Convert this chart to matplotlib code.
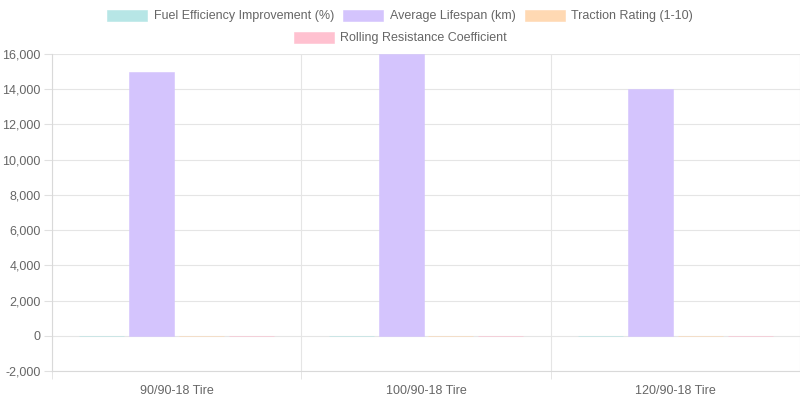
import matplotlib.pyplot as plt
import numpy as np

plt.rcParams["font.family"] = ["Liberation Sans", "DejaVu Sans"]

categories = ["90/90-18 Tire", "100/90-18 Tire", "120/90-18 Tire"]
series_names = ["Fuel Efficiency Improvement (%)", "Average Lifespan (km)",
                "Traction Rating (1-10)", "Rolling Resistance Coefficient"]
fuel_eff = [5, 7, 10]
lifespan = [15000, 16000, 14000]
traction = [8, 9, 7]
rolling = [0.012, 0.011, 0.010]

fills = ["#b7e6e6", "#d4c4fd", "#ffd9b3", "#ffc1d0"]

fig = plt.figure(figsize=(8, 4), dpi=100)
ax = fig.add_axes([0.065, 0.0725, 0.935, 0.7925])

xs = np.arange(len(categories))
slot = 0.8 / 4
W = slot * 0.9
handles = []
for i, vals in enumerate([fuel_eff, lifespan, traction, rolling]):
    b = ax.bar(xs - 0.4 + slot * (i + 0.5), vals, W, color=fills[i],
               edgecolor=fills[i], linewidth=0.4, label=series_names[i], zorder=2)
    handles.append(b)

ax.set_xlim(-0.5, len(categories) - 0.5)
ax.set_ylim(-2000, 16000)
ax.set_yticks(np.arange(-2000, 16001, 2000))
ax.set_yticklabels([f"{v:,}" for v in range(-2000, 16001, 2000)])
ax.set_xticks(xs)
ax.set_xticklabels(categories)
ax.set_xticks(np.arange(-0.5, len(categories)), minor=True)

ax.tick_params(axis="x", which="major", length=0, pad=10, labelsize=9, labelcolor="#666666")
ax.tick_params(axis="x", which="minor", length=6, color="#e0e0e0")
ax.tick_params(axis="y", length=6, color="#e0e0e0", pad=2, labelsize=9, labelcolor="#666666")
ax.grid(axis="y", color="#e5e5e5", linewidth=0.8, zorder=0)
ax.grid(axis="x", which="minor", color="#e5e5e5", linewidth=0.8, zorder=0)
ax.set_axisbelow(True)
for s in ["top", "right"]:
    ax.spines[s].set_visible(False)
for s in ["left", "bottom"]:
    ax.spines[s].set_color("#d9d9d9")
    ax.spines[s].set_linewidth(0.8)

leg_kw = dict(frameon=False, fontsize=9, handlelength=3.2, handleheight=1.0,
              handletextpad=0.5, columnspacing=0.75, labelcolor="#666666")
fig.legend(handles=handles[:3], loc="center", bbox_to_anchor=(0.5, 1 - 16 / 400),
           ncol=3, **leg_kw)
fig.legend(handles=handles[3:], loc="center", bbox_to_anchor=(0.5, 1 - 38 / 400),
           ncol=1, **leg_kw)

fig.savefig("out.png", dpi=100)
